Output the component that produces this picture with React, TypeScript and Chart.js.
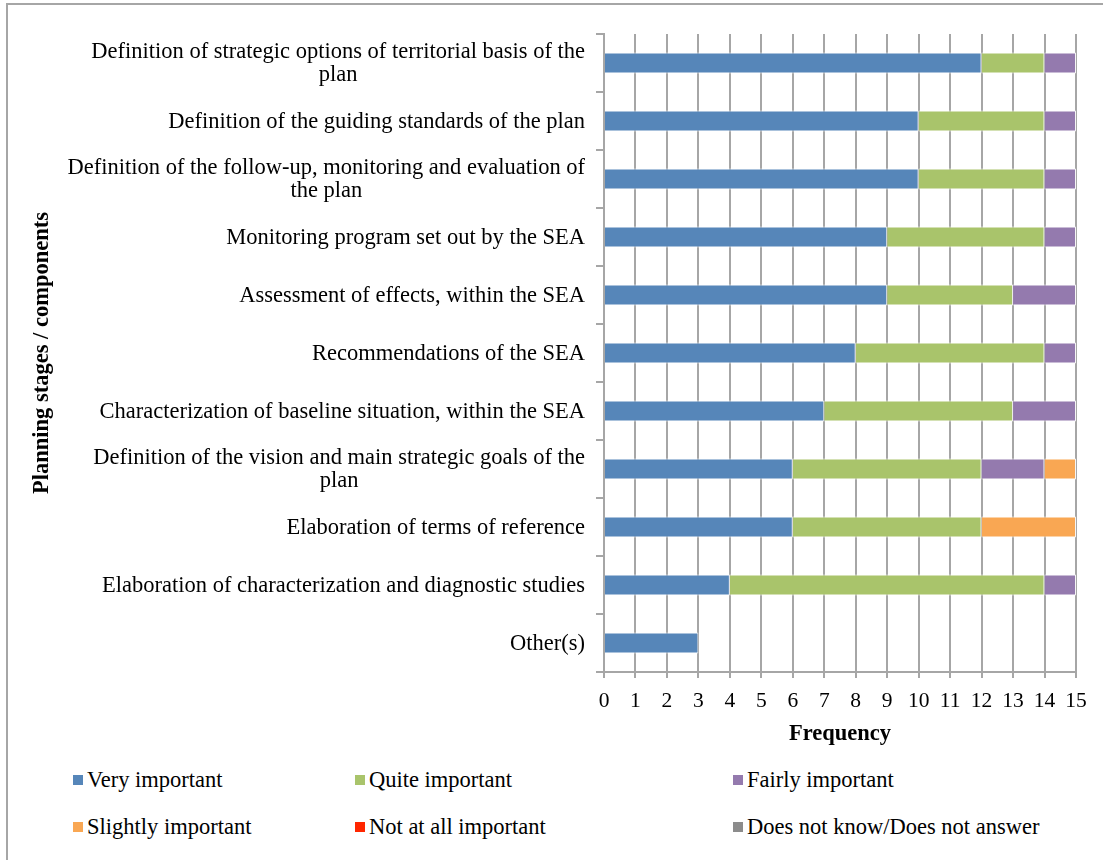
import React, { useEffect, useRef } from "react";
import { Chart, registerables } from "chart.js";

Chart.register(...registerables);

const FONT = "'Liberation Serif', serif";
const FS = 22.5;
const TICK_FS = 21.5;

const categories: string[][] = [
  ["Definition of strategic options of territorial basis of the", "plan"],
  ["Definition of the guiding standards of the plan"],
  ["Definition of the follow-up, monitoring and evaluation of", "the plan"],
  ["Monitoring program set out by the SEA"],
  ["Assessment of effects, within the SEA"],
  ["Recommendations of the SEA"],
  ["Characterization of baseline situation, within the SEA"],
  ["Definition of the vision and main strategic goals of the", "plan"],
  ["Elaboration of terms of reference"],
  ["Elaboration of characterization and diagnostic studies"],
  ["Other(s)"],
];

const seriesNames = [
  "Very important",
  "Quite important",
  "Fairly important",
  "Slightly important",
  "Not at all important",
  "Does not know/Does not answer",
];

const seriesColors = ["#5686B9", "#A9C46B", "#947AAE", "#F9A753", "#FF2600", "#8C8C8C"];

const veryImportant = [12, 10, 10, 9, 9, 8, 7, 6, 6, 4, 3];
const quiteImportant = [2, 4, 4, 5, 4, 6, 6, 6, 6, 10, 0];
const fairlyImportant = [1, 1, 1, 1, 2, 1, 2, 2, 0, 1, 0];
const slightlyImportant = [0, 0, 0, 0, 0, 0, 0, 1, 3, 0, 0];
const notAtAllImportant = [0, 0, 0, 0, 0, 0, 0, 0, 0, 0, 0];
const doesNotKnow = [0, 0, 0, 0, 0, 0, 0, 0, 0, 0, 0];

const seriesValues = [
  veryImportant,
  quiteImportant,
  fairlyImportant,
  slightlyImportant,
  notAtAllImportant,
  doesNotKnow,
];

const xTicks = [0, 1, 2, 3, 4, 5, 6, 7, 8, 9, 10, 11, 12, 13, 14, 15];

const GRID = "#a6a6a6";

const yLabelPlugin = {
  id: "yLabels",
  afterDraw(chart: any) {
    const y = chart.scales.y;
    const ctx = chart.ctx;
    ctx.save();
    ctx.font = `${FS}px ${FONT}`;
    ctx.fillStyle = "#000";
    ctx.textBaseline = "middle";
    ctx.textAlign = "center";
    const right = chart.chartArea.left - 19;
    const lh = 23;
    categories.forEach((lines, i) => {
      const w = Math.max(...lines.map((l) => ctx.measureText(l).width));
      const cx = right - w / 2;
      const cy = y.getPixelForValue(i) + 1;
      lines.forEach((l, j) => {
        ctx.fillText(l, cx, cy + (j - (lines.length - 1) / 2) * lh);
      });
    });
    ctx.restore();
  },
};

export default function App() {
  const ref = useRef<HTMLCanvasElement | null>(null);

  useEffect(() => {
    if (!ref.current) return;
    const chart = new Chart(ref.current, {
      type: "bar",
      data: {
        labels: categories.map((c) => c.join(" ")),
        datasets: seriesNames.map((name, i) => ({
          label: name,
          data: seriesValues[i],
          backgroundColor: seriesColors[i],
          borderColor: "rgba(255,255,255,0.9)",
          borderWidth: 1,
          categoryPercentage: 1,
          barPercentage: 0.36,
        })),
      },
      options: {
        indexAxis: "y",
        animation: false,
        responsive: false,
        maintainAspectRatio: false,
        layout: { padding: { top: 34, right: 27, left: 0, bottom: 0 } },
        plugins: {
          legend: { display: false },
          tooltip: { enabled: false },
        },
        scales: {
          x: {
            type: "linear",
            stacked: true,
            min: 0,
            max: 15,
            afterBuildTicks: (scale: any) => {
              scale.ticks = xTicks.map((v) => ({ value: v }));
            },
            afterFit: (scale: any) => {
              scale.height = 88;
            },
            ticks: {
              color: "#000",
              font: { family: FONT, size: TICK_FS },
              padding: 10,
              maxRotation: 0,
              autoSkip: false,
            },
            grid: {
              color: GRID,
              lineWidth: 2,
              tickLength: 6,
            },
            border: { color: GRID, width: 2 },
            title: {
              display: true,
              text: "Frequency",
              color: "#000",
              font: { family: FONT, size: FS, weight: "bold" },
              padding: { top: 0, bottom: 12.5 },
            },
          },
          y: {
            type: "category",
            stacked: true,
            afterFit: (scale: any) => {
              scale.width = 604;
            },
            ticks: { display: false },
            grid: {
              drawOnChartArea: false,
              offset: true,
              color: GRID,
              lineWidth: 2,
              tickLength: 8,
            },
            border: { color: GRID, width: 2 },
            title: {
              display: true,
              text: "Planning stages / components",
              color: "#000",
              font: { family: FONT, size: FS, weight: "bold" },
              padding: { top: 28.5, bottom: 0 },
            },
          },
        },
      },
      plugins: [yLabelPlugin],
    });
    return () => chart.destroy();
  }, []);

  const legendPos = [
    { x: 73, y: 780 },
    { x: 355, y: 780 },
    { x: 733, y: 780 },
    { x: 73, y: 827 },
    { x: 355, y: 827 },
    { x: 733, y: 827 },
  ];

  return (
    <div
      style={{
        position: "absolute",
        left: 0,
        top: 0,
        width: 1103,
        height: 860,
        overflow: "hidden",
        background: "#fff",
        fontFamily: FONT,
      }}
    >
      <div
        style={{
          position: "absolute",
          left: 6,
          top: 3,
          width: 1300,
          height: 1100,
          border: "2px solid #a6a6a6",
        }}
      />
      <canvas
        ref={ref}
        width={1103}
        height={760}
        style={{ position: "absolute", left: 0, top: 0, width: 1103, height: 760 }}
      />
      {seriesNames.map((name, i) => (
        <div
          key={name}
          style={{
            position: "absolute",
            left: legendPos[i].x,
            top: legendPos[i].y - 14,
            height: 28,
            display: "flex",
            alignItems: "center",
            fontSize: FS,
            color: "#000",
            whiteSpace: "nowrap",
          }}
        >
          <span
            style={{
              display: "inline-block",
              width: 10,
              height: 10,
              background: seriesColors[i],
              marginRight: 4,
            }}
          />
          <span>{name}</span>
        </div>
      ))}
    </div>
  );
}
